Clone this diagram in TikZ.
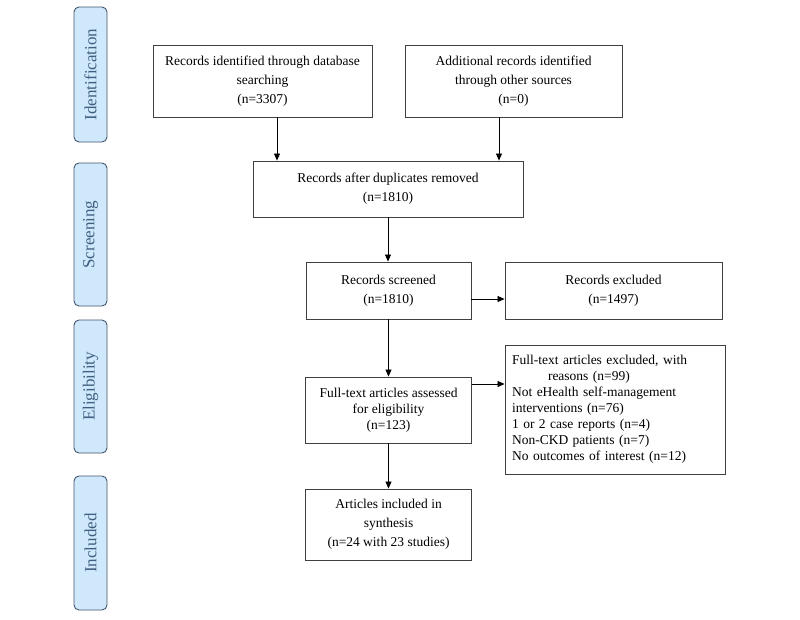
\documentclass[tikz,border=0pt]{standalone}
\usepackage{fontspec}
\setmainfont{Liberation Serif}
\usetikzlibrary{arrows.meta}
\definecolor{sidefill}{HTML}{CFE8FB}
\definecolor{sidedraw}{HTML}{44566C}
\definecolor{sidetext}{HTML}{3F5F80}
\definecolor{boxdraw}{HTML}{404040}
\begin{document}
\begin{tikzpicture}[x=1pt,y=-1pt,
  box/.style={draw=boxdraw,line width=0.9pt,inner sep=0pt,align=center,
    font=\fontsize{13.5}{19}\selectfont},
  tightbox/.style={box,font=\fontsize{13.5}{16}\selectfont},
  side/.style={draw=sidedraw,fill=sidefill,line width=0.9pt,rounded corners=5pt,
    inner sep=0pt,minimum width=33pt},
  sidelabel/.style={rotate=90,text=sidetext,font=\fontsize{17}{17}\selectfont},
  arr/.style={-{Triangle[length=7pt,width=6pt]},line width=0.8pt,draw=black}]
\useasboundingbox (0,0) rectangle (800,619);
\fill[white] (0,0) rectangle (800,619);
% phase labels
\node[side,minimum height=135pt] (ph1) at (90.5,74.5) {};
\node[sidelabel] (ph1t) at (ph1.center) {Identification};
\node[side,minimum height=143pt] (ph2) at (90.5,234.5) {};
\node[sidelabel] (ph2t) at (ph2.center) {Screening};
\node[side,minimum height=133pt] (ph3) at (90.5,386.5) {};
\node[sidelabel] (ph3t) at (ph3.center) {Eligibility};
\node[side,minimum height=134pt] (ph4) at (90.5,543) {};
\node[sidelabel] (ph4t) at (ph4.center) {Included};
% boxes
\node[box,minimum width=219pt,minimum height=72pt] (b1) at (262.5,81)
  {Records identified through database\\searching\\(n=3307)};
\node[box,minimum width=217pt,minimum height=72pt] (b2) at (513.5,81)
  {Additional records identified\\through other sources\\(n=0)};
\node[box,minimum width=270pt,minimum height=56pt] (b3) at (388,189)
  {Records after duplicates removed\\(n=1810)};
\node[box,minimum width=165pt,minimum height=57pt] (b4) at (388.5,290.5)
  {Records screened\\(n=1810)};
\node[box,minimum width=217pt,minimum height=57pt] (b5) at (613.5,290.5)
  {Records excluded\\(n=1497)};
\node[tightbox,minimum width=166pt,minimum height=66pt] (b6) at (388.5,410)
  {Full-text articles assessed\\for eligibility\\(n=123)};
\node[tightbox,align=left,minimum width=220pt,minimum height=129pt,text width=206pt] (b7) at (615,409.5)
  {Full-text articles excluded, with\\\hspace*{36pt}reasons (n=99)\\Not eHealth self-management\\interventions (n=76)\\1 or 2 case reports (n=4)\\Non-CKD patients (n=7)\\No outcomes of interest (n=12)};
\node[box,minimum width=166pt,minimum height=71pt] (b8) at (388.5,524.5)
  {Articles included in\\synthesis\\(n=24 with 23 studies)};
% connectors
\coordinate (c1) at (277,0);
\coordinate (c2) at (499,0);
\coordinate (c3) at (0,299);
\coordinate (c4) at (0,384);
\draw[arr] (b1.south -| c1) -- (b3.north -| c1);
\draw[arr] (b2.south -| c2) -- (b3.north -| c2);
\draw[arr] (b3.south) -- (b4.north -| b3.south);
\draw[arr] (b4.east |- c3) -- (b5.west |- c3);
\draw[arr] (b4.south) -- (b6.north -| b4.south);
\draw[arr] (b6.east |- c4) -- (b7.west |- c4);
\draw[arr] (b6.south) -- (b8.north -| b6.south);
\end{tikzpicture}
\end{document}
